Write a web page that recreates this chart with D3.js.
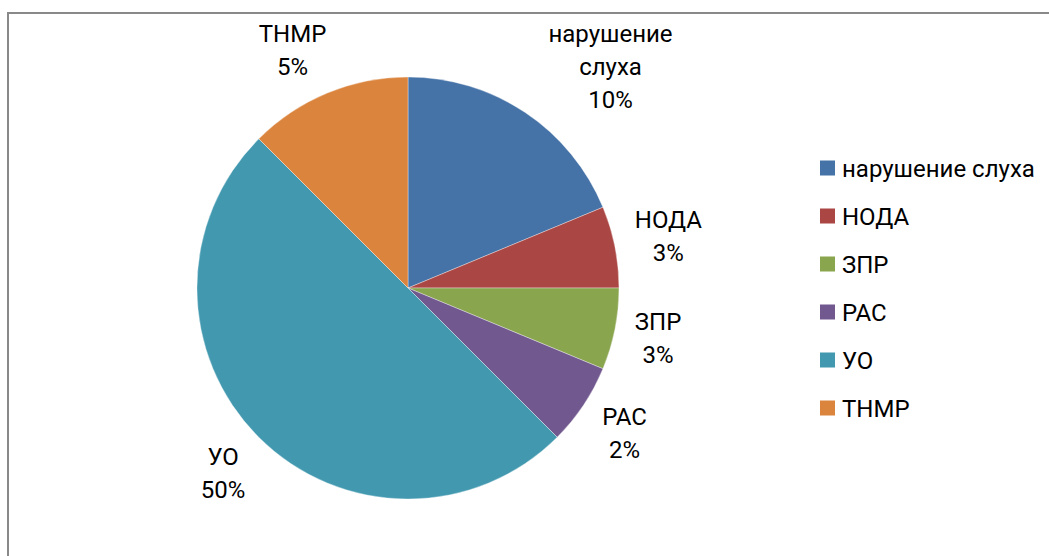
<!DOCTYPE html>
<html>
<head>
<meta charset="utf-8">
<script src="https://cdn.jsdelivr.net/npm/d3@7"></script>
<style>
  body { margin: 0; background: #fff; }
  svg { display: block; }
  text { font-family: Roboto, "Open Sans", sans-serif; fill: #000; }
</style>
</head>
<body>
<script>
// categories, slice counts and the label text typed on the chart
var categories = ['нарушение слуха', 'НОДА', 'ЗПР', 'РАС', 'УО', 'ТНМР'];
var values = [3, 1, 1, 1, 8, 2];
var labelLines = [
    ['нарушение', 'слуха', '10%'],
    ['НОДА', '3%'],
    ['ЗПР', '3%'],
    ['РАС', '2%'],
    ['УО', '50%'],
    ['ТНМР', '5%']
];
var colors = ['#4572A7', '#AA4643', '#89A54E', '#71588F', '#4198AF', '#DB843D'];

var width = 1049, height = 556;
var cx = 408, cy = 288, radius = 211;
var fontSize = 24, lineHeight = 33, capHeight = 17;
var labelPad = 17, minTop = 25;

var svg = d3.select('body').append('svg').attr('width', width).attr('height', height);

// chart frame (only top and left edges show in the picture)
svg.append('path')
    .attr('d', 'M8,' + height + ' V13 H' + width)
    .attr('fill', 'none')
    .attr('stroke', '#898989')
    .attr('stroke-width', 2);

var color = d3.scaleOrdinal().domain(categories).range(colors);
var pie = d3.pie().sort(null).value(function (d) { return d.value; });
var arc = d3.arc().innerRadius(0).outerRadius(radius);

var data = categories.map(function (c, i) { return {name: c, value: values[i], lines: labelLines[i]}; });
var arcs = pie(data);

var g = svg.append('g').attr('transform', 'translate(' + cx + ',' + cy + ')');

g.selectAll('path.slice')
    .data(arcs)
    .enter()
    .append('path')
    .attr('class', 'slice')
    .attr('d', arc)
    .attr('fill', function (d) { return color(d.data.name); })
    .attr('stroke', '#ffffff')
    .attr('stroke-width', 0.6)
    .attr('stroke-opacity', 0.6);

// labels: pushed out along the mid angle until the text block clears the pie
function boxDist(bx, by, w, h) {
    var x = Math.max(Math.abs(bx) - w / 2, 0);
    var y = Math.max(Math.abs(by) - h / 2, 0);
    return Math.sqrt(x * x + y * y);
}

var labels = g.selectAll('g.label')
    .data(arcs)
    .enter()
    .append('g')
    .attr('class', 'label');

labels.each(function (d) {
    var el = d3.select(this);
    var n = d.data.lines.length;
    var texts = el.selectAll('text')
        .data(d.data.lines)
        .enter()
        .append('text')
        .attr('text-anchor', 'middle')
        .attr('font-size', fontSize)
        .attr('y', function (t, i) { return capHeight / 2 - (n - 1) * lineHeight / 2 + i * lineHeight; })
        .text(function (t) { return t; });
    var w = 0;
    texts.each(function () { w = Math.max(w, this.getComputedTextLength()); });
    var h = (n - 1) * lineHeight + capHeight;
    var a = (d.startAngle + d.endAngle) / 2;
    var ux = Math.sin(a), uy = -Math.cos(a);
    var t = radius;
    while (boxDist(t * ux, t * uy, w, h) < radius + labelPad) t += 0.5;
    var bx = t * ux, by = t * uy;
    // keep the block under the top of the frame, then slide it sideways
    if (cy + by - h / 2 < minTop) {
        by = minTop + h / 2 - cy;
        var sx = ux >= 0 ? 1 : -1;
        bx = 0;
        while (boxDist(bx, by, w, h) < radius + labelPad) bx += sx * 0.5;
    }
    el.attr('transform', 'translate(' + bx + ',' + by + ')');
});

// legend
var legend = svg.append('g').attr('transform', 'translate(820,168)');
var rows = legend.selectAll('g')
    .data(categories)
    .enter()
    .append('g')
    .attr('transform', function (d, i) { return 'translate(0,' + (i * 48) + ')'; });
rows.append('rect')
    .attr('x', 0).attr('y', -7.5)
    .attr('width', 15).attr('height', 15)
    .attr('fill', function (d) { return color(d); });
rows.append('text')
    .attr('x', 22)
    .attr('y', capHeight / 2)
    .attr('font-size', fontSize)
    .text(function (d) { return d; });
</script>
</body>
</html>
